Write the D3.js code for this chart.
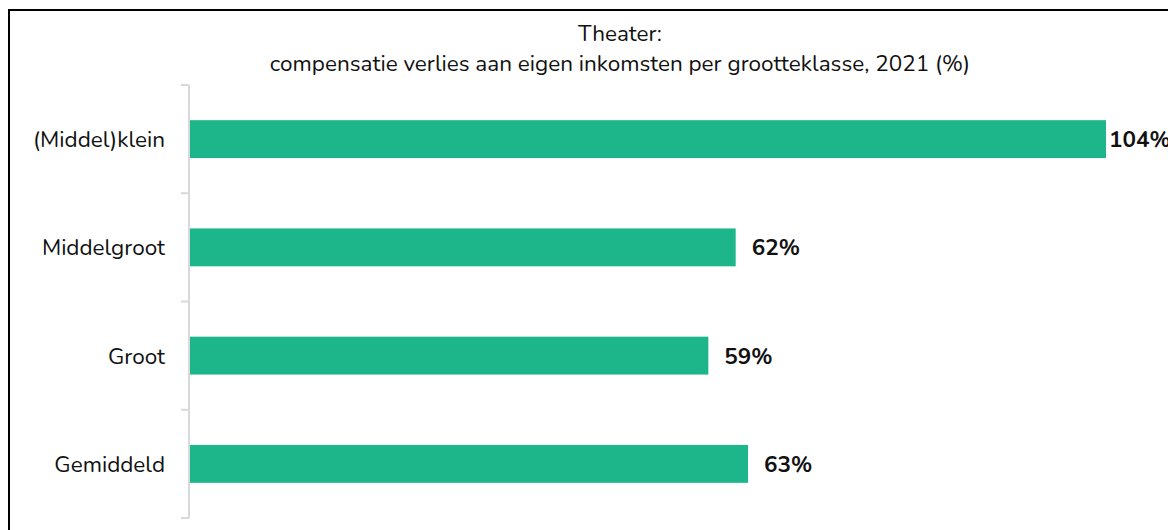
<!DOCTYPE html>
<html>
<head>
<meta charset="utf-8">
<script src="https://cdn.jsdelivr.net/npm/d3@7"></script>
<style>
  body { margin: 0; background: #fff; }
  svg { display: block; font-family: "Nunito", "Lato", "Open Sans", sans-serif; }
</style>
</head>
<body>
<div id="chart"></div>
<script>
var titleLines = ["Theater:", "compensatie verlies aan eigen inkomsten per grootteklasse, 2021 (%)"];
var categories = ["(Middel)klein", "Middelgroot", "Groot", "Gemiddeld"];
var values = [104, 62, 58.9, 63.4];
var labels = ["104%", "62%", "59%", "63%"];

var W = 1168, H = 530;
var margin = {top: 85, right: 61, bottom: 12, left: 189};
var width = W - margin.left - margin.right,
    height = H - margin.top - margin.bottom;

var svg = d3.select("#chart").append("svg")
    .attr("width", W)
    .attr("height", H);

// outer frame (only left + top visible in the reference)
svg.append("rect")
    .attr("x", 9).attr("y", 10)
    .attr("width", W + 20).attr("height", H + 20)
    .attr("fill", "none")
    .attr("stroke", "#000")
    .attr("stroke-width", 2);

svg.append("text")
    .attr("x", 620).attr("y", 41)
    .attr("text-anchor", "middle")
    .attr("font-size", 22.5)
    .attr("fill", "#111")
    .selectAll("tspan")
    .data(titleLines)
    .join("tspan")
      .attr("x", 620)
      .attr("dy", function(d, i) { return i ? 30 : 0; })
      .text(function(d) { return d; });

var g = svg.append("g")
    .attr("transform", "translate(" + margin.left + "," + margin.top + ")");

var x = d3.scaleLinear()
    .domain([0, 104])
    .range([0, 917]);

var y = d3.scaleBand()
    .domain(categories)
    .range([0, height])
    .paddingInner(0.65)
    .paddingOuter(0.325);

var yBoundary = d3.scaleLinear()
    .domain([0, categories.length])
    .range([0, height]);

// axis line with tick marks between categories
g.append("line")
    .attr("x1", 0).attr("x2", 0)
    .attr("y1", 0).attr("y2", height)
    .attr("stroke", "#d9d9d9")
    .attr("stroke-width", 2);

g.selectAll(".tick-mark")
    .data(d3.range(categories.length + 1))
    .join("line")
      .attr("class", "tick-mark")
      .attr("x1", -8).attr("x2", 0)
      .attr("y1", function(d) { return yBoundary(d); })
      .attr("y2", function(d) { return yBoundary(d); })
      .attr("stroke", "#d9d9d9")
      .attr("stroke-width", 2);

g.selectAll(".cat")
    .data(categories)
    .join("text")
      .attr("class", "cat")
      .attr("x", -24)
      .attr("y", function(d) { return y(d) + y.bandwidth() / 2; })
      .attr("dy", "0.35em")
      .attr("text-anchor", "end")
      .attr("font-size", 22.5)
      .attr("fill", "#111")
      .text(function(d) { return d; });

g.selectAll(".bar")
    .data(values)
    .join("rect")
      .attr("class", "bar")
      .attr("x", 1)
      .attr("y", function(d, i) { return y(categories[i]); })
      .attr("width", function(d) { return x(d) - 1; })
      .attr("height", y.bandwidth())
      .attr("fill", "#1cb68a");

g.selectAll(".val")
    .data(values)
    .join("text")
      .attr("class", "val")
      .attr("y", function(d, i) { return y(categories[i]) + y.bandwidth() / 2; })
      .attr("dy", "0.35em")
      .attr("font-size", 22.5)
      .attr("font-weight", "bold")
      .attr("fill", "#111")
      .text(function(d, i) { return labels[i]; })
      .attr("x", function(d, i) {
        // the widest bar's label sits right against the bar and runs off the edge
        return i === 0 ? x(d) + 3 : x(d) + 16;
      });
</script>
</body>
</html>
